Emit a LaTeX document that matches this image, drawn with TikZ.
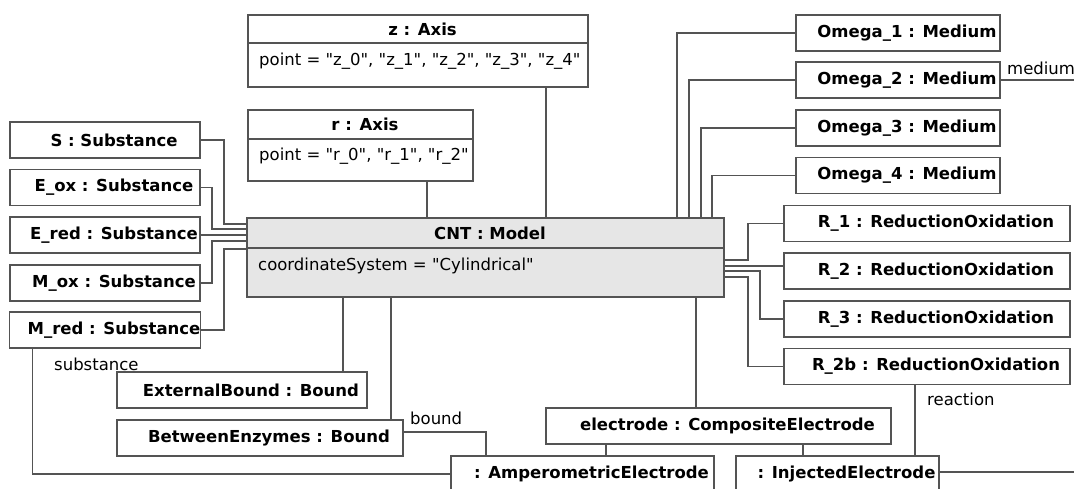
\documentclass[tikz,border=0pt]{standalone}
\usepackage{fontspec}
\setmainfont{DejaVu Sans}[Ligatures=TeXOff]
\usetikzlibrary{positioning}
\definecolor{edgegray}{RGB}{84,84,84}
\definecolor{modelgray}{RGB}{230,230,230}

\begin{document}
\begin{tikzpicture}[x=1pt,y=-1pt,
  obj/.style={draw=edgegray,line width=1.4pt,fill=white,minimum height=36pt,inner sep=0pt,outer sep=0pt,
    font=\fontsize{16.5}{20}\selectfont\bfseries,execute at begin node={\hspace*{18pt}}},
  head/.style={draw=edgegray,line width=1.4pt,fill=white,inner sep=0pt,outer sep=0pt,
    font=\fontsize{16.5}{20}\selectfont\bfseries,execute at begin node={\hspace*{9pt}}},
  body/.style={draw=edgegray,line width=1.4pt,fill=white,inner sep=0pt,outer sep=0pt,anchor=north},
  attr/.style={anchor=base west,inner sep=0pt,font=\fontsize{16.5}{20}\selectfont},
  role/.style={anchor=base west,inner sep=0pt,font=\fontsize{16.5}{20}\selectfont},
  link/.style={draw=edgegray,line width=1.4pt}]
\useasboundingbox (0,0) rectangle (1074,489);
\clip (0,0) rectangle (1074,489);

% axes and model
\node[head,minimum width=340pt,minimum height=28pt] (zhead) at (418,29) {z : Axis};
\node[body,minimum width=340pt,minimum height=44pt] (zbox) at (zhead.south) {};
\node[attr] (zattr) at ([xshift=11pt,yshift=-23pt]zbox.north west) {point = "z\_0", "z\_1", "z\_2", "z\_3", "z\_4"};
\node[head,minimum width=225pt,minimum height=29pt] (rhead) at (360.5,124.5) {r : Axis};
\node[body,minimum width=225pt,minimum height=42pt] (rbox) at (rhead.south) {};
\node[attr] (rattr) at ([xshift=11pt,yshift=-22pt]rbox.north west) {point = "r\_0", "r\_1", "r\_2"};
\node[head,fill=modelgray,minimum width=477pt,minimum height=30pt] (cnthead) at (485.5,233) {CNT : Model};
\node[body,fill=modelgray,minimum width=477pt,minimum height=49pt] (cntbox) at (cnthead.south) {};
\node[attr] (cntattr) at ([xshift=11pt,yshift=-23pt]cntbox.north west) {coordinateSystem = "Cylindrical"};

% substances
\node[obj,minimum width=190pt] (S) at (105,140) {S : Substance};
\node[obj,minimum width=190pt] (Eox) at (105,187.5) {E\_ox : Substance};
\node[obj,minimum width=190pt] (Ered) at (105,235) {E\_red : Substance};
\node[obj,minimum width=190pt] (Mox) at (105,283) {M\_ox : Substance};
\node[obj,minimum width=190pt] (Mred) at (105,330) {M\_red : Substance};

% media
\node[obj,minimum width=204pt] (O1) at (898,33) {Omega\_1 : Medium};
\node[obj,minimum width=204pt] (O2) at (898,80) {Omega\_2 : Medium};
\node[obj,minimum width=204pt] (O3) at (898,128) {Omega\_3 : Medium};
\node[obj,minimum width=204pt] (O4) at (898,175.5) {Omega\_4 : Medium};

% reactions
\node[obj,minimum width=286pt] (R1) at (927,223.5) {R\_1 : ReductionOxidation};
\node[obj,minimum width=286pt] (R2) at (927,271) {R\_2 : ReductionOxidation};
\node[obj,minimum width=286pt] (R3) at (927,319) {R\_3 : ReductionOxidation};
\node[obj,minimum width=286pt] (R2b) at (927,366.5) {R\_2b : ReductionOxidation};

% bounds and electrodes
\node[obj,minimum width=250pt] (EB) at (242,390) {ExternalBound : Bound};
\node[obj,minimum width=286pt] (BE) at (260,438) {BetweenEnzymes : Bound};
\node[obj,minimum width=345pt] (elec) at (718.5,426) {electrode : CompositeElectrode};
\node[obj,minimum width=263pt] (amp) at (582.5,474) {: AmperometricElectrode};
\node[obj,minimum width=203pt] (inj) at (837.5,474) {: InjectedElectrode};
\coordinate (medout) at (1080,80);
\coordinate (injout) at (1080,472);

\draw[link] (S.east) -| ([xshift=-23pt,yshift=-6pt]cnthead.north west) -- ([yshift=-6pt]cnthead.north west);
\draw[link] (Eox.east) -| ([xshift=-35pt,yshift=-11pt]cnthead.north west) -- ([yshift=-11pt]cnthead.north west);
\draw[link] (Ered.east) -- ([yshift=-17pt]cnthead.north west);
\draw[link] (Mox.east) -| ([xshift=-35pt,yshift=-23pt]cnthead.north west) -- ([yshift=-23pt]cnthead.north west);
\draw[link] (Mred.east) -| ([xshift=-23pt,yshift=-31pt]cnthead.north west) -- ([yshift=-31pt]cnthead.north west);
\draw[link] ([xshift=-46pt]rbox.south east) -- ([xshift=-58.5pt]cnthead.north);
\draw[link] ([xshift=-42pt]zbox.south east) -- ([xshift=60.5pt]cnthead.north);
\draw[link] (O1.west) -| ([xshift=-47pt]cnthead.north east);
\draw[link] (O2.west) -| ([xshift=-35pt]cnthead.north east);
\draw[link] (O3.west) -| ([xshift=-23pt]cnthead.north east);
\draw[link] (O4.west) -| ([xshift=-12pt]cnthead.north east);
\draw[link] ([yshift=-42pt]cnthead.north east) -- ++(24,0) |- (R1.west);
\draw[link] ([yshift=-48pt]cnthead.north east) -- ([yshift=5pt]R2.west);
\draw[link] ([yshift=-53pt]cnthead.north east) -- ++(36,0) |- (R3.west);
\draw[link] ([yshift=-59pt]cnthead.north east) -- ++(24,0) |- (R2b.west);
\draw[link] ([xshift=96pt]cntbox.south west) -- ([xshift=101pt]EB.north);
\draw[link] ([xshift=144pt]cntbox.south west) -- ([xshift=131pt]BE.north);
\draw[link] ([xshift=-28pt]cntbox.south east) -- ([xshift=-22.5pt]elec.north);
\draw[link] ([xshift=23pt]Mred.south west) |- (amp.west);
\draw[link] ([yshift=6pt]BE.east) -| ([xshift=35pt]amp.north west);
\draw[link] ([xshift=60pt]elec.south west) -- ([xshift=155pt]amp.north west);
\draw[link] ([xshift=257pt]elec.south west) -- ([xshift=67pt]inj.north west);
\draw[link] ([xshift=131pt]R2b.south west) -- ([xshift=179pt]inj.north west);
\draw[link] (O2.east) -- (medout);
\draw[link] ([yshift=2pt]inj.east) -- (injout);

\node[role] (substlbl) at (54,370) {substance};
\node[role] (boundlbl) at (410,424) {bound};
\node[role] (reactlbl) at (927,405.5) {reaction};
\node[role] (medlbl) at (1007,75) {medium};
\end{tikzpicture}
\end{document}
